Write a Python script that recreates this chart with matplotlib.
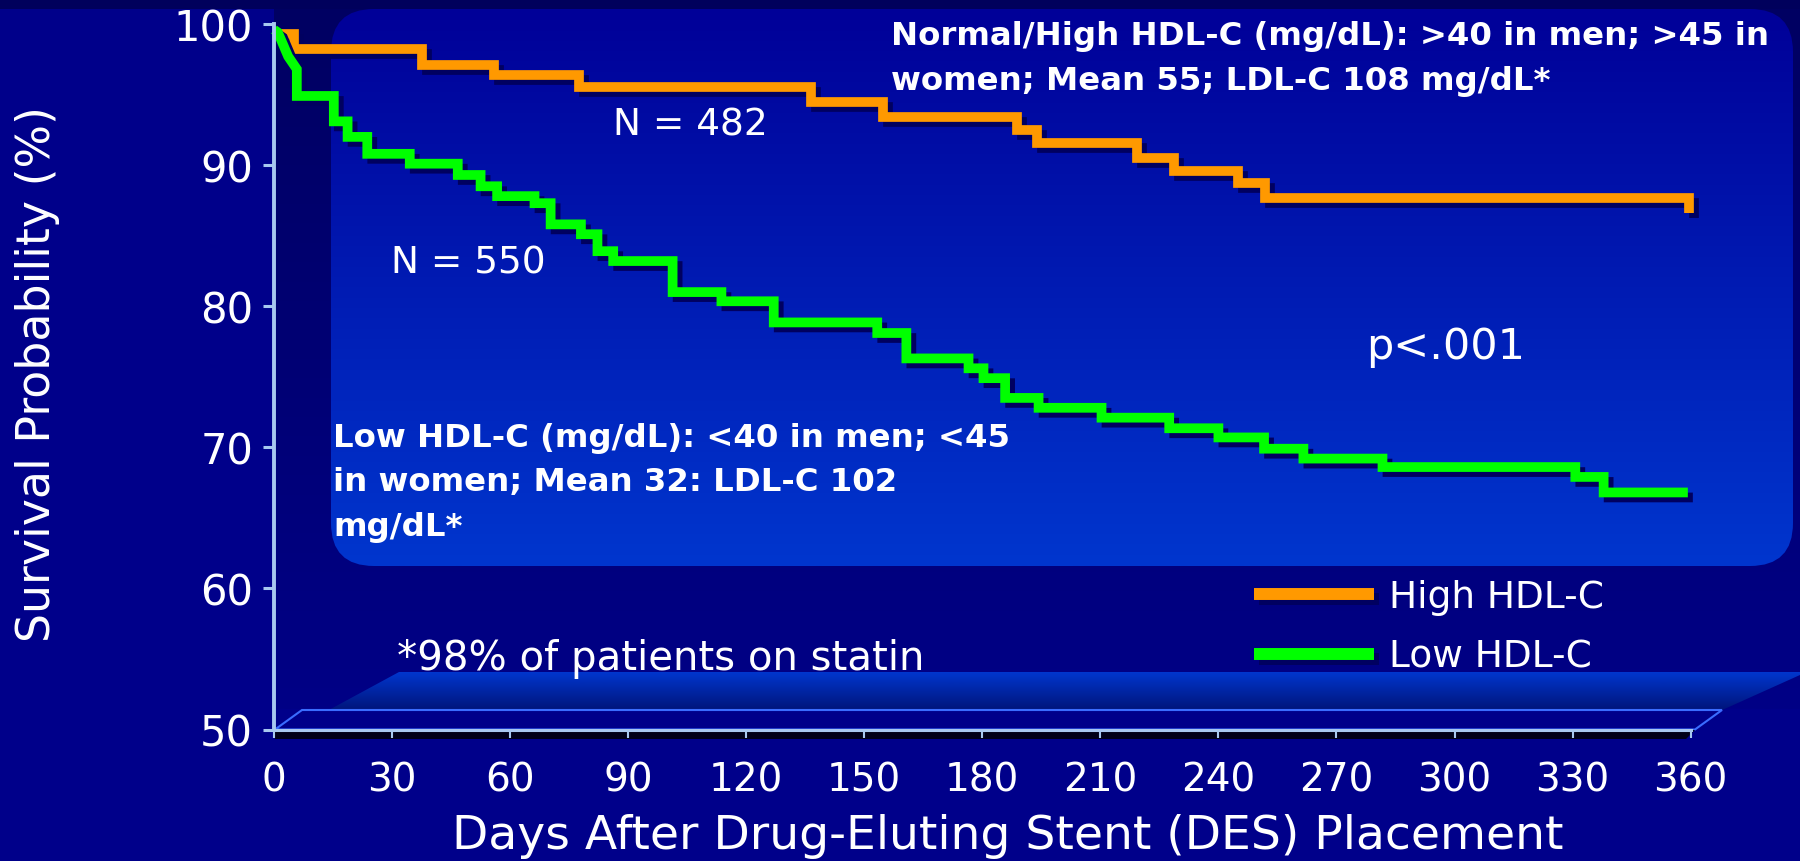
import numpy as np
import matplotlib
matplotlib.use('Agg')
import matplotlib.pyplot as plt
import matplotlib.patheffects as pe
from matplotlib.patches import FancyBboxPatch, Polygon, Rectangle
from matplotlib.colors import LinearSegmentedColormap

# ---- data ----
day_ticks = list(range(0, 361, 30))
surv_ticks = [50, 60, 70, 80, 90, 100]

# high HDL-C: start level, then (day of drop, survival after drop)
high_start = (0, 99.3)
high_days = [5, 37.7, 56, 77.5, 136.4, 154.7, 188.8, 193.9, 219.2, 228.7, 245, 251.8, 359.5]
high_surv = [98.2, 97.1, 96.4, 95.5, 94.5, 93.4, 92.5, 91.6, 90.5, 89.6, 88.7, 87.7, 86.6]

# low HDL-C: short smooth fall at the start, then steps
low_early_days = [0, 1.0, 3.6, 5.8]
low_early_surv = [99.6, 99.4, 97.7, 96.8]
low_days = [5.8, 15.2, 18.7, 23.7, 34.5, 46.7, 52.5, 56.7, 66.2, 70.3, 78, 82.2, 86.2,
            101.3, 113.7, 127, 153.3, 160.7, 176.5, 180.3, 185.8, 194.3, 210.3, 227.5,
            240, 251.6, 261.6, 281.7, 330.7, 337.9]
low_surv = [94.9, 93.1, 92.0, 90.8, 90.1, 89.3, 88.5, 87.8, 87.3, 85.8, 85.1, 83.9, 83.2,
            81.0, 80.35, 78.85, 78.1, 76.3, 75.6, 74.9, 73.5, 72.8, 72.1, 71.35,
            70.7, 69.9, 69.2, 68.6, 67.9, 66.8]
low_end = 359.3


def km_line(x0, y0, days, surv, end=None):
    xs, ys = [x0], [y0]
    level = y0
    for d, s in zip(days, surv):
        xs += [d, d]
        ys += [level, s]
        level = s
    if end is not None:
        xs.append(end)
        ys.append(level)
    return xs, ys


BG = '#00008A'
AXC = '#A8C8F0'

fig = plt.figure(figsize=(18, 8.62), dpi=100, facecolor=BG)

# ---- backdrop drawn in pixel space ----
bg = fig.add_axes([0, 0, 1, 1], zorder=0)
bg.axis('off')


def grad(top, bottom, extent, clip):
    cm = LinearSegmentedColormap.from_list('g', [top, bottom])
    im = bg.imshow(np.linspace(0, 1, 256).reshape(-1, 1), cmap=cm, aspect='auto',
                   extent=extent, origin='upper', interpolation='bilinear')
    im.set_clip_path(clip)


bg.add_patch(Rectangle((0, 0), 1800, 10, color='#00005C', lw=0))
back = Rectangle((274, 10), 1526, 700, lw=0, fc='none')
bg.add_patch(back)
grad('#000062', '#000086', (274, 1800, 710, 10), back)

wall = FancyBboxPatch((331, 10), 1462, 557, boxstyle='round,pad=0,rounding_size=43',
                      lw=0, fc='none')
bg.add_patch(wall)
grad('#000098', '#0036CE', (331, 1793, 567, 10), wall)

strip = Polygon([(399, 673), (1800, 673), (1800, 676), (1720, 712), (327, 712)],
                closed=True, lw=0, fc='none')
bg.add_patch(strip)
grad('#0036CE', '#001478', (327, 1800, 712, 673), strip)

bg.add_patch(Polygon([(275, 730.5), (302, 711), (1722, 711), (1695, 730.5)], closed=True,
                     fc=BG, ec='#3A6CFF', lw=1.5))
bg.add_patch(Polygon([(275, 731), (1695, 731), (1686, 740), (275, 740)], closed=True,
                     fc='#000018', lw=0))
bg.set_xlim(0, 1800)
bg.set_ylim(862, 0)

# ---- chart ----
ax = fig.add_axes([274 / 1800, (862 - 730.5) / 862, 360 * 3.935 / 1800, 705.5 / 862], zorder=1)
ax.patch.set_alpha(0)
ax.set_xlim(0, 360)
ax.set_ylim(50, 100)

shadow = [pe.SimpleLineShadow(offset=(3.6, -3.6), shadow_color='#000060', alpha=1.0), pe.Normal()]

hx, hy = km_line(high_start[0], high_start[1], high_days, high_surv)
ax.plot(hx, hy, color='#FF9900', lw=7, solid_joinstyle='miter', solid_capstyle='butt',
        clip_on=False, path_effects=shadow, label='High HDL-C')

lx, ly = km_line(low_early_days[-1], low_early_surv[-1], low_days, low_surv, end=low_end)
lx = low_early_days[:-1] + lx
ly = low_early_surv[:-1] + ly
ax.plot(lx, ly, color='#00FF00', lw=7, solid_joinstyle='miter', solid_capstyle='butt',
        clip_on=False, path_effects=shadow, label='Low HDL-C')

for s in ['top', 'right']:
    ax.spines[s].set_visible(False)
ax.spines['left'].set_color(AXC)
ax.spines['left'].set_linewidth(2.8)
ax.spines['bottom'].set_color(AXC)
ax.spines['bottom'].set_linewidth(2.2)

ax.set_xticks(day_ticks)
ax.set_yticks(surv_ticks)
ax.tick_params(axis='y', direction='out', length=8, width=2.2, color=AXC,
               labelcolor='white', labelsize=30, pad=7)
ax.tick_params(axis='x', direction='out', length=6, width=1.5, color=AXC,
               labelcolor='white', labelsize=28, pad=16)

ax.set_xlabel('Days After Drug-Eluting Stent (DES) Placement', color='white', fontsize=34,
              va='baseline')
ax.xaxis.set_label_coords(0.518, (730.5 - 849) / 705.5)
ax.set_ylabel('Survival Probability (%)', color='white', fontsize=33, va='center')
ax.yaxis.set_label_coords(-0.167, 0.505)

leg = ax.legend(loc='upper left', bbox_to_anchor=(1254 / 1800, 1 - 580 / 862),
                bbox_transform=fig.transFigure, frameon=False, fontsize=27,
                handlelength=3.2, handletextpad=0.41, labelspacing=0.64, borderpad=0,
                borderaxespad=0)
for t in leg.get_texts():
    t.set_color('white')
for ln in leg.get_lines():
    ln.set_linewidth(8.6)


def px(x, y):
    return x / 1800, 1 - y / 862


# multi-line blocks: anchored on the baseline of their last line
fig.text(*px(891, 90), 'Normal/High HDL-C (mg/dL): >40 in men; >45 in\n'
         'women; Mean 55; LDL-C 108 mg/dL*', color='white', fontsize=23.3,
         fontweight='bold', va='baseline', ha='left', linespacing=1.57)
fig.text(*px(333, 536), 'Low HDL-C (mg/dL): <40 in men; <45\n'
         'in women; Mean 32: LDL-C 102\nmg/dL*', color='white', fontsize=23.3,
         fontweight='bold', va='baseline', ha='left', linespacing=1.57)
fig.text(*px(613, 135), 'N = 482', color='white', fontsize=27, va='baseline')
fig.text(*px(391, 274), 'N = 550', color='white', fontsize=27, va='baseline')
fig.text(*px(1366, 359), 'p<.001', color='white', fontsize=31, va='baseline')
fig.text(*px(397, 670), '*98% of patients on statin', color='white', fontsize=29,
         va='baseline')

fig.savefig('out.png', dpi=100, facecolor=BG)
